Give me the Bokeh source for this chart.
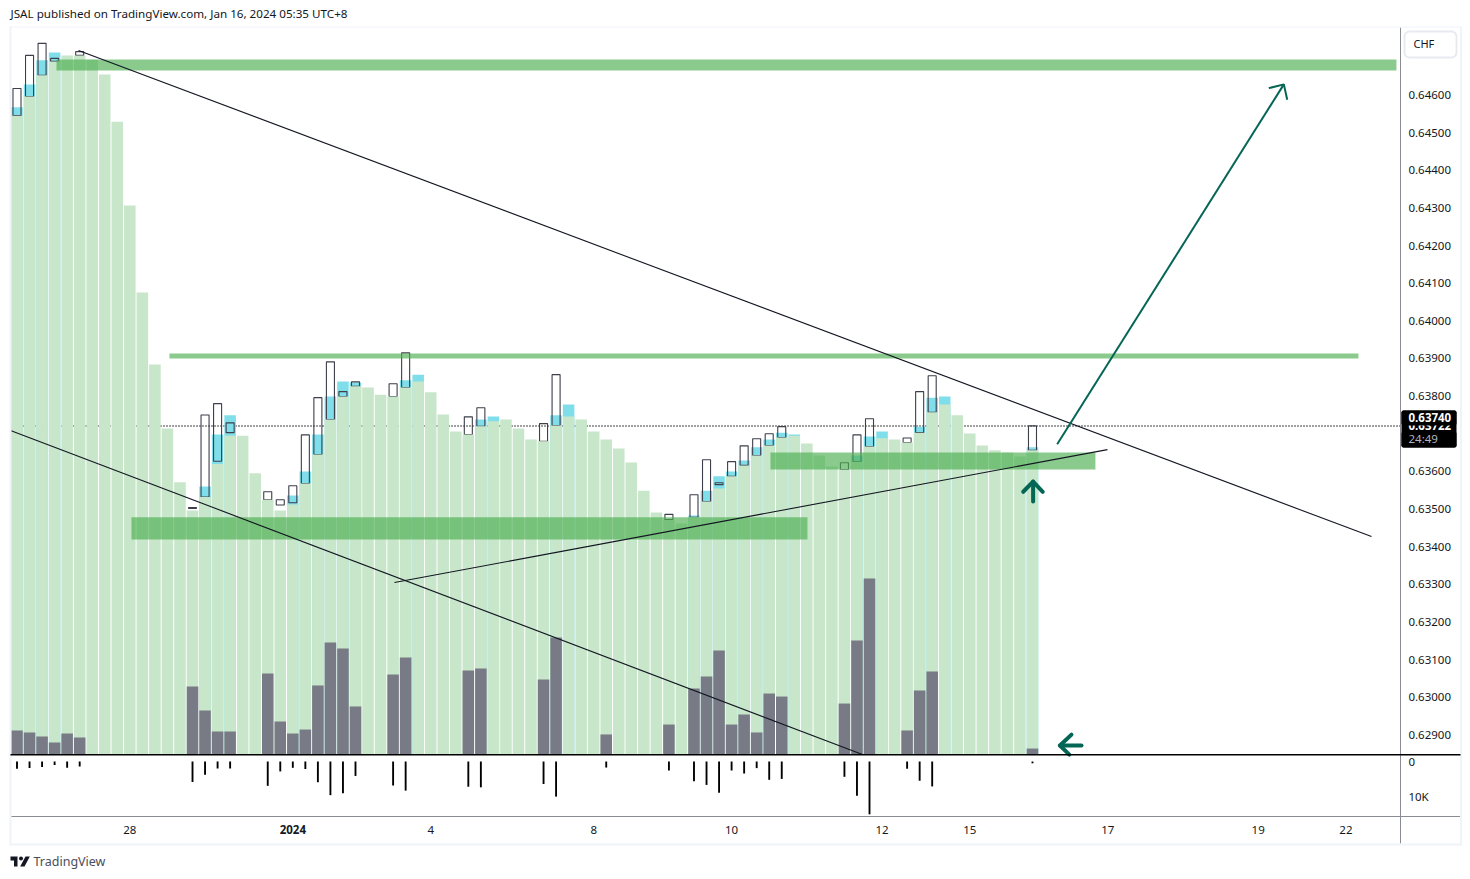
from bokeh.embed import file_html
from bokeh.models import BoxAnnotation, FixedTicker, Label, LinearAxis, NumeralTickFormatter, PolyAnnotation, Range1d
from bokeh.plotting import figure
from bokeh.resources import INLINE

# bar index 0..81, prices
green_top = [
    0.64545, 0.64596, 0.64652, 0.64689, 0.64705, 0.64705, 0.64694, 0.64654, 0.64529, 0.64306,
    0.64075, 0.63884, 0.63714, 0.63571, 0.63496, 0.63532, 0.63620, 0.63695, 0.63695, 0.63595,
    0.63525, 0.63496, 0.63512, 0.63568, 0.63645, 0.63738, 0.63799, 0.63826, 0.63823, 0.63804,
    0.63799, 0.63823, 0.63839, 0.63810, 0.63751, 0.63706, 0.63698, 0.63720, 0.63733, 0.63738,
    0.63714, 0.63685, 0.63680, 0.63722, 0.63746, 0.63738, 0.63706, 0.63685, 0.63661, 0.63624,
    0.63549, 0.63491, 0.63470, 0.63462, 0.63478, 0.63520, 0.63555, 0.63587, 0.63616, 0.63642,
    0.63669, 0.63690, 0.63695, 0.63674, 0.63642, 0.63613, 0.63605, 0.63626, 0.63666, 0.63688,
    0.63685, 0.63677, 0.63703, 0.63757, 0.63778, 0.63749, 0.63701, 0.63669, 0.63656, 0.63650,
    0.63640, 0.63656,
]
green_idx = list(range(len(green_top)))

cyan_idx = [0, 1, 2, 3, 15, 16, 17, 22, 23, 24, 25, 26, 27, 31, 32, 37, 38, 43, 44, 54, 55, 56, 57,
            58, 59, 60, 61, 62, 67, 68, 69, 72, 73, 74, 81]
cyan_top = [0.64567, 0.64628, 0.64692, 0.64713, 0.63560, 0.63698, 0.63749, 0.63536, 0.63600, 0.63698,
            0.63799, 0.63839, 0.63836, 0.63842, 0.63857, 0.63738, 0.63746, 0.63749, 0.63778, 0.63483,
            0.63549, 0.63587, 0.63600, 0.63629, 0.63664, 0.63685, 0.63703, 0.63698, 0.63642, 0.63693,
            0.63706, 0.63719, 0.63796, 0.63799, 0.63664]

candle_idx = [0, 1, 2, 3, 5, 14, 15, 16, 17, 20, 21, 22, 23, 24, 25, 26, 27, 30, 31, 36, 37, 42, 43,
              52, 54, 55, 56, 57, 58, 59, 60, 61, 66, 67, 68, 71, 72, 73, 81]
candle_low = [0.64545, 0.64596, 0.64652, 0.64689, 0.64705, 0.63502, 0.63532, 0.63627, 0.63703, 0.63525,
              0.63511, 0.63517, 0.63568, 0.63645, 0.63738, 0.63799, 0.63826, 0.63799, 0.63823, 0.63698,
              0.63720, 0.63680, 0.63722, 0.63472, 0.63478, 0.63520, 0.63565, 0.63587, 0.63616, 0.63642,
              0.63669, 0.63690, 0.63605, 0.63626, 0.63666, 0.63677, 0.63703, 0.63757, 0.63656]
candle_high = [0.64617, 0.64705, 0.64737, 0.64697, 0.64715, 0.63504, 0.63750, 0.63780, 0.63729, 0.63546,
               0.63525, 0.63562, 0.63697, 0.63796, 0.63891, 0.63812, 0.63838, 0.63833, 0.63915, 0.63745,
               0.63769, 0.63727, 0.63857, 0.63486, 0.63538, 0.63631, 0.63570, 0.63626, 0.63668, 0.63687,
               0.63700, 0.63719, 0.63623, 0.63697, 0.63740, 0.63689, 0.63812, 0.63854, 0.63721]

# volume in thousands, same series in both panes
vol_idx = [0, 1, 2, 3, 4, 5, 14, 15, 16, 17, 20, 21, 22, 23, 24, 25, 26, 27, 30, 31, 36, 37, 42, 43,
           47, 52, 54, 55, 56, 57, 58, 59, 60, 61, 66, 67, 68, 71, 72, 73, 81]
vol_k = [2.06, 1.89, 1.54, 1.03, 1.80, 1.46, 5.83, 3.77, 1.97, 1.97, 6.95, 2.83, 1.80, 2.14, 5.92, 9.61,
         9.09, 4.12, 6.86, 8.32, 7.20, 7.38, 6.43, 10.03, 1.72, 2.57, 5.66, 6.69, 8.92, 2.57, 3.43, 1.89,
         5.23, 4.97, 4.37, 9.78, 15.09, 2.06, 5.49, 7.12, 0.51]

# drawn zones: left bar, right bar, lower price, upper price
zone_left = [3.15, 12.16, 9.13, 60.1]
zone_right = [110.03, 107.0, 63.05, 86.02]
zone_low = [0.64665, 0.63900, 0.63419, 0.63605]
zone_high = [0.64694, 0.63913, 0.63478, 0.63650]

trend_xs = [[4.91, 108.04], [-0.52, 67.44], [30.11, 86.98]]
trend_ys = [[0.64718, 0.63427], [0.63709, 0.62848], [0.63305, 0.63658]]

big_arrow_xs = [[82.97, 101.05], [99.85, 101.05, 101.32]]
big_arrow_ys = [[0.63672, 0.64628], [0.64618, 0.64628, 0.64587]]
up_arrow_xs = [[81.05, 81.05], [80.26, 81.05, 81.82]]
up_arrow_ys = [[0.63520, 0.63573], [0.63546, 0.63573, 0.63546]]
left_arrow_xs = [[84.91, 83.19], [84.11, 83.19, 83.94]]
left_arrow_ys = [[0.62872, 0.62872], [0.62901, 0.62872, 0.62848]]

last_price = 0.637207
last_price_x = [-0.518, 110.35]
price_ticks = [0.629, 0.630, 0.631, 0.632, 0.633, 0.634, 0.635, 0.636, 0.637, 0.638, 0.639,
               0.640, 0.641, 0.642, 0.643, 0.644, 0.645, 0.646]
time_ticks = [9, 33, 46, 57, 69, 76, 87, 99, 106]
time_labels = ["28", "4", "8", "10", "12", "15", "17", "19", "22"]
year_tick = 22

FONT = "Noto Sans"
TEXT = "#131722"
BORDER = "#f0f3fa"
AXIS = "#8a8c94"
MARK = "#056656"

floor = 0.628482
axis_x = 110.35

# the frame fills the page, the axes sit inside it at fixed locations
p = figure(width=1462, height=870, x_range=Range1d(-1.316, 115.3), y_range=Range1d(0.625401, 0.648508),
           x_axis_location=None, y_axis_location=None, toolbar_location=None, output_backend="svg",
           min_border_left=0, min_border_right=0, min_border_top=0, min_border_bottom=0)
p.extra_y_ranges = {"vol": Range1d(-9.95, 64.67), "low": Range1d(31.14, -217.43)}
p.grid.visible = False
p.outline_line_color = None

p.line(last_price_x, [last_price, last_price], line_color="#000000", line_dash="1 2", line_width=1.4)
p.vbar(x=cyan_idx, top=cyan_top, bottom=floor, width=0.92, fill_color="#80deea", line_color=None)
p.vbar(x=candle_idx, top=candle_high, bottom=candle_low, width=0.64, fill_color=None,
       line_color="#3d3f4b", line_width=1.1)
p.vbar(x=green_idx, top=green_top, bottom=floor, width=0.92, fill_color="#c8e6c9", line_color=None)
p.vbar(x=vol_idx, top=vol_k, bottom=0, width=0.92, fill_color="#787b86", line_color=None, y_range_name="vol")
p.vbar(x=vol_idx, top=vol_k, bottom=0, width=0.15, fill_color="#000000", line_color=None, y_range_name="low")

p.quad(left=zone_left, right=zone_right, bottom=zone_low, top=zone_high, fill_color="#4caf50",
       fill_alpha=0.65, line_color=None)
p.multi_line(trend_xs, trend_ys, line_color="#131722", line_width=1.1)
p.multi_line(big_arrow_xs, big_arrow_ys, line_color=MARK, line_width=2)
p.multi_line(up_arrow_xs, up_arrow_ys, line_color=MARK, line_width=4, line_cap="round", line_join="round")
p.multi_line(left_arrow_xs, left_arrow_ys, line_color=MARK, line_width=4, line_cap="round", line_join="round")


def style_axis(axis):
    axis.major_tick_line_color = None
    axis.minor_tick_line_color = None
    axis.major_label_text_font = FONT
    axis.major_label_text_font_size = "11.5px"
    axis.major_label_text_color = TEXT


price_axis = LinearAxis(ticker=FixedTicker(ticks=price_ticks), formatter=NumeralTickFormatter(format="0.00000"),
                        fixed_location=axis_x, bounds=(0.626118, 0.647791), axis_line_color=AXIS,
                        major_label_standoff=2)
style_axis(price_axis)
p.add_layout(price_axis, "right")

vol_axis = LinearAxis(y_range_name="low", ticker=FixedTicker(ticks=[0, 10]), fixed_location=axis_x,
                      major_label_overrides={0: "0", 10: "10K"}, axis_line_color=None, major_label_standoff=2)
style_axis(vol_axis)
p.add_layout(vol_axis, "right")

time_axis = LinearAxis(ticker=FixedTicker(ticks=time_ticks), major_label_overrides=dict(zip(time_ticks, time_labels)),
                       fixed_location=0.626822, bounds=(-0.518, 115.14), axis_line_color=AXIS,
                       major_label_standoff=3)
style_axis(time_axis)
p.add_layout(time_axis, "below")


def box(left, right, top, bottom, color, radius=0, line=None, line_width=1):
    p.add_layout(BoxAnnotation(left=left, right=right, top=top, bottom=bottom,
                               left_units="canvas", right_units="canvas",
                               top_units="canvas", bottom_units="canvas",
                               fill_color=color, fill_alpha=1, line_color=line, line_width=line_width,
                               line_alpha=1, border_radius=radius, editable=False))


def text(x, y, txt, color=TEXT, size="11.5px", style="normal", x_units="canvas", align="left"):
    p.add_layout(Label(x=x, y=y, x_units=x_units, y_units="canvas", text=txt, text_color=color,
                       text_font=FONT, text_font_size=size, text_font_style=style,
                       text_align=align, text_baseline="middle"))


# outer border and pane line
box(9, 1461, 26, 27, BORDER)
box(9, 1461, 843, 845, BORDER)
box(9, 11, 26, 845, BORDER)
box(1459.5, 1461.5, 26, 845, BORDER)
box(10, 1460, 753.6, 755, "#000000")

text(10, 13, "JSAL published on TradingView.com, Jan 16, 2024 05:35 UTC+8", size="11.65px")
text(year_tick, 828.5, "2024", style="bold", x_units="data", align="center")

# currency box
box(1404, 1456, 31, 57, "#ffffff", radius=5, line="#e8eaf0", line_width=2)
text(1413, 43, "CHF", size="11px")

# last price tag
box(1401, 1456, 410, 447, "#000000", radius=2)
text(1408, 425, "0.63722", color="#ffffff", style="bold")
box(1401, 1456, 410, 425, "#000000", radius=2)
text(1408, 416.5, "0.63740", color="#ffffff", style="bold")
box(1401, 1456, 431, 447, "#000000", radius=2)
text(1408, 437.5, "24:49", color="#b2b5be")

# footer logo and name
logo_xs = [[10, 17, 17, 13.5, 13.5, 10], [25, 29.3, 24, 19.7]]
logo_ys = [[856, 856, 866, 866, 860, 860], [856, 856, 866, 866]]
for xs, ys in zip(logo_xs, logo_ys):
    p.add_layout(PolyAnnotation(xs=xs, ys=ys, xs_units="canvas", ys_units="canvas", fill_color="#131722",
                                fill_alpha=1, line_color=None, editable=False))
box(18.5, 22.5, 856, 860, "#131722", radius=2)
text(33, 860.5, "TradingView", color="#4a4e5a", size="12.5px")

open("out.html", "w").write(file_html(p, INLINE))
